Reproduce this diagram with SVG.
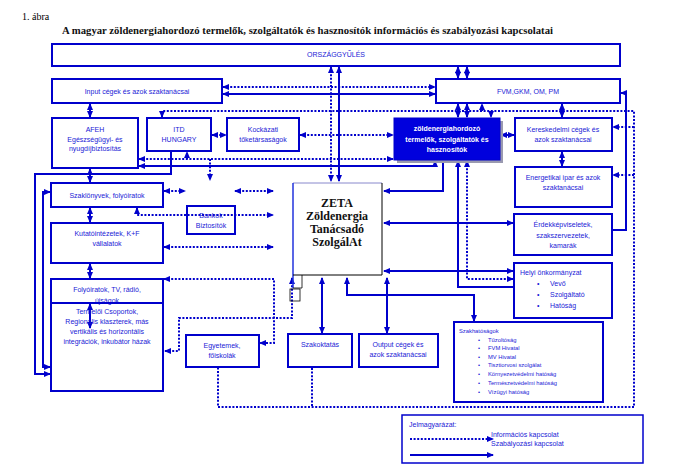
<svg xmlns="http://www.w3.org/2000/svg" width="682" height="474" viewBox="0 0 682 474">
<style>
.b{fill:none;stroke:#0000cc;stroke-width:2}
.t{font-family:"Liberation Sans",Arial,sans-serif;font-size:7px;fill:#1a1ad6;text-anchor:middle}
.tl{font-family:"Liberation Sans",Arial,sans-serif;font-size:7px;fill:#1a1ad6}
.ts{font-family:"Liberation Sans",Arial,sans-serif;font-size:5.8px;fill:#1a1ad6}
.s{fill:none;stroke:#0000cc;stroke-width:2}
.d{fill:none;stroke:#0000cc;stroke-width:2;stroke-dasharray:2,1.6}
.a{marker-start:url(#ah);marker-end:url(#ah)}
.e{marker-end:url(#ah)}
.st{marker-start:url(#ah)}
</style>
<defs>
<marker id="ah" markerUnits="userSpaceOnUse" markerWidth="7" markerHeight="7" refX="6" refY="3.5" orient="auto-start-reverse" viewBox="0 0 7 7">
<path d="M0,0.5 L7,3.5 L0,6.5 z" fill="#0000cc"/>
</marker>
</defs>
<rect width="682" height="474" fill="#fff"/>
<text x="22" y="20" font-family="Liberation Serif,serif" font-size="10" fill="#000">1. ábra</text>
<text x="62" y="34" font-family="Liberation Serif,serif" font-size="10" font-weight="bold" fill="#111" textLength="491" lengthAdjust="spacingAndGlyphs">A magyar zöldenergiahordozó termelők, szolgáltatók és hasznosítók információs és szabályozási kapcsolatai</text>

<g id="connectors">
<!-- solid -->
<path class="s a" d="M339,67 V181"/>
<path class="s a" d="M458,67 V78"/>
<path class="s a" d="M467,67 V78"/>
<path class="s a" d="M223,94 H435"/>
<path class="s a" d="M90,104 V117"/>
<path class="s a" d="M90,169 V182"/>
<path class="s a" d="M90,208 V222"/>
<path class="s a" d="M90,264 V278"/>
<path class="s a" d="M90,304 V328"/>
<path class="s a" d="M458,104 V117"/>
<path class="s a" d="M467,104 V117"/>
<path class="s a" d="M562,104 V117"/>
<path class="s a" d="M501,135 H514"/>
<path class="s a" d="M562,152 V166"/>
<path class="s a" d="M139,166 H435 V161"/>
<path class="s e" d="M171,152 V174 H35 V374 H50"/>
<path class="s a" d="M50,192 H43 V367 H50"/>
<path class="s e" d="M443,161 V191 H384"/>
<path class="s st" d="M458,161 V287 H514"/>
<path class="s a" d="M384,223 H513"/>
<path class="s a" d="M384,271 H513"/>
<path class="s e" d="M613,230 H626 V93 H621"/>
<path class="s a" d="M322,278 V333"/>
<path class="s a" d="M387,278 V333"/>
<path class="s a" d="M474,321 V295 H347 V278"/>
<!-- dotted -->
<path class="d a" d="M331,67 V181"/>
<path class="d a" d="M223,87 H435"/>
<path class="d st" d="M162,117 V111 H634 V407 H218 V368"/>
<path class="d e" d="M491,111 V117"/>
<path class="d e" d="M482,111 V104"/>
<path class="d e" d="M634,127 H613"/>
<path class="d e" d="M634,175 H613"/>
<path class="d" d="M312,368 V407"/>
<path class="d a" d="M212,135 H226"/>
<path class="d a" d="M300,135 H393"/>
<path class="d a" d="M139,159 H393"/>
<path class="d e" d="M187,159 V152"/>
<path class="d e" d="M210,159 V180"/>
<path class="d a" d="M164,191 H185"/>
<path class="d a" d="M235,191 H273"/>
<path class="d a" d="M137,208 V215 H273"/>
<path class="d a" d="M164,247 H273"/>
<path class="d a" d="M164,279 H274 V343 H260"/>
<path class="d a" d="M467,161 V279 H513"/>
<path class="d a" d="M165,351 H179 V318 H292 V278"/>
</g>

<g id="orszaggyules"><rect class="b" x="52" y="44" width="568" height="22"/><text class="t" x="336" y="57">ORSZÁGGYŰLÉS</text></g>
<g id="input"><rect class="b" x="52" y="79" width="170" height="24"/><text class="t" x="137" y="94">Input cégek és azok szaktanácsai</text></g>
<g id="fvm"><rect class="b" x="436" y="79" width="184" height="24"/><text class="t" x="528" y="94">FVM,GKM, OM, PM</text></g>
<g id="afeh"><rect class="b" x="52" y="118" width="86" height="50"/><text class="t" x="95" y="132">AFEH</text><text class="t" x="95" y="142">Egészségügyi- és</text><text class="t" x="95" y="151">nyugdíjbiztosítás</text></g>
<g id="itd"><rect class="b" x="147" y="118" width="64" height="33"/><text class="t" x="179" y="132">ITD</text><text class="t" x="179" y="142">HUNGARY</text></g>
<g id="kockazati"><rect class="b" x="227" y="118" width="72" height="33"/><text class="t" x="263" y="132">Kockázati</text><text class="t" x="263" y="142">tőketársaságok</text></g>
<g id="zold"><rect x="397" y="121" width="106" height="42" fill="#9a9ab0"/><rect x="394" y="118" width="106" height="42" fill="#0000dd" stroke="#0000cc" stroke-width="1"/><text class="t" x="447" y="131" fill="#fff" style="fill:#fff;font-weight:bold">zöldenergiahordozó</text><text class="t" x="447" y="142" style="fill:#fff;font-weight:bold">termelők, szolgáltatók és</text><text class="t" x="447" y="152" style="fill:#fff;font-weight:bold">hasznosítók</text></g>
<g id="kereskedelmi"><rect class="b" x="515" y="118" width="97" height="33"/><text class="t" x="563" y="132">Kereskedelmi cégek és</text><text class="t" x="563" y="142">azok szaktanácsai</text></g>
<g id="energetikai"><rect class="b" x="515" y="167" width="97" height="40"/><text class="t" x="563" y="180">Energetikai ipar és azok</text><text class="t" x="563" y="190">szaktanácsai</text></g>
<g id="erdek"><rect class="b" x="514" y="214" width="98" height="41"/><text class="t" x="563" y="227">Érdekképviseletek,</text><text class="t" x="563" y="238">szakszervezetek,</text><text class="t" x="563" y="248">kamarák</text></g>
<g id="helyi"><rect class="b" x="514" y="263" width="98" height="55"/><text class="tl" x="520" y="275">Helyi önkormányzat</text><text class="tl" x="537" y="286">•</text><text class="tl" x="550" y="286">Vevő</text><text class="tl" x="537" y="297">•</text><text class="tl" x="550" y="297">Szolgáltató</text><text class="tl" x="537" y="308">•</text><text class="tl" x="550" y="308">Hatóság</text></g>
<g id="szakhatosagok"><rect class="b" x="454" y="322" width="149" height="80"/><text class="ts" x="459" y="333">Szakhatóságok</text>
<text class="ts" x="478" y="342">•</text><text class="ts" x="488" y="342">Tűzoltóság</text>
<text class="ts" x="478" y="350">•</text><text class="ts" x="488" y="350">FVM Hivatal</text>
<text class="ts" x="478" y="359">•</text><text class="ts" x="488" y="359">MV Hivatal</text>
<text class="ts" x="478" y="367">•</text><text class="ts" x="488" y="367">Tisztiorvosi szolgálat</text>
<text class="ts" x="478" y="376">•</text><text class="ts" x="488" y="376">Környezetvédelmi hatóság</text>
<text class="ts" x="478" y="385">•</text><text class="ts" x="488" y="385">Természetvédelmi hatóság</text>
<text class="ts" x="478" y="394">•</text><text class="ts" x="488" y="394">Vízügyi hatóság</text></g>
<g id="zeta"><rect x="293" y="183" width="89" height="92" fill="#fff"/><line x1="293" y1="183" x2="382" y2="183" stroke="#8888cc" stroke-width="1"/><line x1="293" y1="183" x2="293" y2="288" stroke="#2233dd" stroke-width="1.5"/><polyline points="382,183 382,275 293,275" fill="none" stroke="#000" stroke-width="1"/><polyline points="293,288 302,288 302,275" fill="none" stroke="#000" stroke-width="0.8"/><rect x="290" y="289" width="10" height="12" fill="none" stroke="#000" stroke-width="0.8"/>
<g font-family="Liberation Serif,serif" font-size="12" font-weight="bold" fill="#111" text-anchor="middle"><text x="337" y="207">ZETA</text><text x="337" y="220">Zöldenergia</text><text x="337" y="233">Tanácsadó</text><text x="337" y="246">SzolgálAt</text></g></g>
<g id="szakkonyvek"><rect class="b" x="51" y="183" width="112" height="24"/><text class="t" x="107" y="198">Szaklönyvek, folyóiratok</text></g>
<g id="kutato"><rect class="b" x="51" y="223" width="112" height="40"/><text class="t" x="107" y="236">Kutatóintézetek, K+F</text><text class="t" x="107" y="246">vállalatok</text></g>
<g id="folyoiratok"><text class="t" x="107" y="292">Folyóiratok, TV, rádió,</text><text class="t" x="107" y="303">újságok</text><rect class="b" x="51" y="279" width="112" height="24"/></g>
<g id="termeloi"><rect class="b" x="51" y="303" width="112" height="88"/><text class="t" x="107" y="314">Termelői Csoportok,</text><text class="t" x="107" y="324">Regionális klaszterek, más</text><text class="t" x="107" y="334">vertikális és horizontális</text><text class="t" x="107" y="344">integrációk, inkubátor házak</text></g>
<g id="bankok"><rect class="b" x="187" y="206" width="48" height="28"/><text class="t" x="211" y="218">Bankok</text><text class="t" x="211" y="228">Biztosítók</text></g>
<g id="egyetemek"><rect class="b" x="186" y="335" width="73" height="32"/><text class="t" x="222" y="348">Egyetemek,</text><text class="t" x="222" y="358">főiskolák</text></g>
<g id="szakoktatas"><rect class="b" x="288" y="334" width="64" height="33"/><text class="t" x="320" y="347">Szakoktatás</text></g>
<g id="output"><rect class="b" x="359" y="334" width="79" height="33"/><text class="t" x="398" y="347">Output cégek és</text><text class="t" x="398" y="357">azok szaktanácsai</text></g>
<g id="legend"><rect x="402" y="415" width="241" height="48" fill="none" stroke="#0000cc" stroke-width="1.5"/><text class="tl" x="409" y="427">Jelmagyarázat:</text><path class="d e" d="M410,439 H493"/><text class="tl" x="491" y="437">Információs kapcsolat</text><text class="tl" x="491" y="446">Szabályozási kapcsolat</text><path class="s e" d="M410,455 H493"/></g>
</svg>
